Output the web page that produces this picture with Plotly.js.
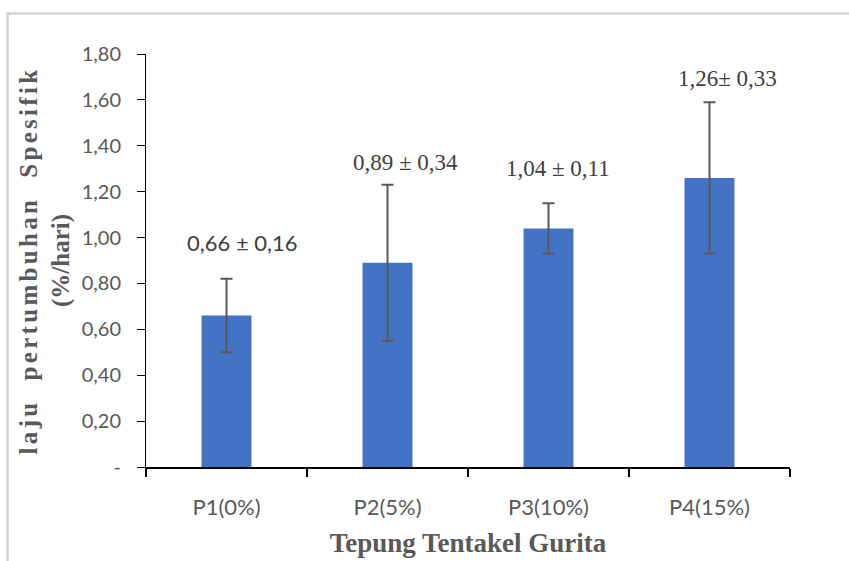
<!DOCTYPE html>
<html>
<head>
<meta charset="utf-8">
<script src="https://cdn.plot.ly/plotly-3.0.1.min.js"></script>
<style>
  html, body { margin: 0; padding: 0; background: #ffffff; }
  #wrap { position: relative; width: 849px; height: 561px; overflow: hidden; }
  #frame { position: absolute; left: 6px; top: 12px; width: 849px; height: 561px;
           border-top: 3px solid #d9d9d9; border-left: 3px solid #d9d9d9; box-sizing: border-box; pointer-events: none; }
  #chart { position: absolute; left: 0; top: 0; width: 849px; height: 561px; }
</style>
</head>
<body>
<div id="wrap">
  <div id="chart"></div>
  <div id="frame"></div>
</div>
<script>
// ---- data ----
const categories = ["P1(0%)", "P2(5%)", "P3(10%)", "P4(15%)"];
const means = [0.66, 0.89, 1.04, 1.26];
const sds = [0.16, 0.34, 0.11, 0.33];
const valueLabels = ["0,66 ± 0,16", "0,89 ± 0,34", "1,04 ± 0,11", "1,26± 0,33"];
const yTickVals = [0, 0.2, 0.4, 0.6, 0.8, 1.0, 1.2, 1.4, 1.6, 1.8];
const yTickText = ["-", "0,20", "0,40", "0,60", "0,80", "1,00", "1,20", "1,40", "1,60", "1,80"];

// ---- label styling (positions relative to error-bar tops) ----
const labelStyle = [
  { xshift: 16, yshift: 36, family: "Lato, 'Open Sans', sans-serif", size: 22 },
  { xshift: 18, yshift: 22, family: "'Liberation Serif', 'Times New Roman', serif", size: 23 },
  { xshift: 9,  yshift: 35, family: "'Liberation Serif', 'Times New Roman', serif", size: 23 },
  { xshift: 18, yshift: 24, family: "'Liberation Serif', 'Times New Roman', serif", size: 23 }
];

const annotations = categories.map((c, i) => ({
  x: c,
  y: means[i] + sds[i],
  xref: "x", yref: "y",
  text: valueLabels[i],
  showarrow: false,
  xanchor: "center", yanchor: "middle",
  xshift: labelStyle[i].xshift,
  yshift: labelStyle[i].yshift,
  font: { family: labelStyle[i].family, size: labelStyle[i].size, color: "#404040" }
}));

const trace = {
  type: "bar",
  x: categories,
  y: means,
  marker: { color: "#4472C4" },
  error_y: { type: "data", array: sds, visible: true, color: "#595959", thickness: 2, width: 6 },
  hoverinfo: "skip"
};

const serifBold = "'Liberation Serif', 'Times New Roman', serif";

const layout = {
  width: 849,
  height: 561,
  margin: { l: 146, r: 59, t: 54, b: 94, pad: 0 },
  paper_bgcolor: "rgba(0,0,0,0)",
  plot_bgcolor: "rgba(0,0,0,0)",
  showlegend: false,
  bargap: 0.69,
  xaxis: {
    type: "category",
    showline: true, linecolor: "#000000", linewidth: 2,
    ticks: "outside", tickson: "boundaries", ticklen: 8, tickwidth: 2, tickcolor: "#000000",
    ticklabelstandoff: 20,
    tickfont: { family: "Lato, 'Open Sans', sans-serif", size: 22, color: "#595959" },
    showgrid: false, zeroline: false,
    title: {
      text: "<b>Tepung Tentakel Gurita</b>",
      font: { family: serifBold, size: 27, color: "#595959" },
      standoff: 14
    }
  },
  yaxis: {
    range: [0, 1.8],
    tickmode: "array", tickvals: yTickVals, ticktext: yTickText,
    showline: true, linecolor: "#000000", linewidth: 1,
    ticks: "outside", ticklen: 8, tickwidth: 1, tickcolor: "#000000",
    ticklabelstandoff: 12,
    tickfont: { family: "Lato, 'Open Sans', sans-serif", size: 20, color: "#595959" },
    showgrid: false, zeroline: false,
    title: {
      text: "<b><span style=\"letter-spacing:3.3px\">laju  pertumbuhan  Spesifik</span><br>(%/hari)</b>",
      font: { family: serifBold, size: 25, color: "#595959" },
      standoff: 4
    }
  },
  annotations: annotations
};

Plotly.newPlot("chart", [trace], layout, { displayModeBar: false, staticPlot: true });
</script>
</body>
</html>
